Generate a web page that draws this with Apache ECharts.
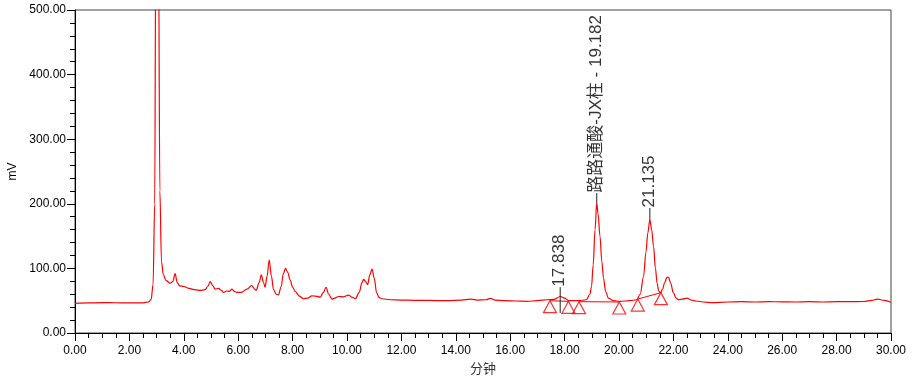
<!DOCTYPE html>
<html>
<head>
<meta charset="utf-8">
<script src="https://cdn.jsdelivr.net/npm/echarts@6/dist/echarts.min.js"></script>
<style>html,body{margin:0;padding:0;background:#fff;}#c{width:917px;height:380px;}</style>
</head>
<body>
<div id="c"></div>
<script>
// Chromatogram trace: time (min) and signal (mV)
var times = [0,0.5,1.0,1.5,2.0,2.5,2.7,2.8,2.87,2.93,2.97,3.02,3.07,3.12,3.18,3.25,3.35,3.5,3.6,3.68,3.76,3.85,4.0,4.2,4.4,4.6,4.78,4.88,4.97,5.07,5.15,5.28,5.38,5.46,5.58,5.68,5.77,5.87,5.95,6.13,6.32,6.5,6.6,6.66,6.77,6.85,6.93,6.99,7.06,7.14,7.22,7.30,7.40,7.48,7.58,7.66,7.74,7.82,7.91,8.0,8.10,8.25,8.40,8.55,8.71,8.85,9.02,9.12,9.23,9.33,9.45,9.55,9.69,9.85,10.06,10.2,10.31,10.45,10.55,10.61,10.68,10.76,10.84,10.92,11.0,11.09,11.18,11.28,11.59,12.0,12.45,13.0,13.68,14.2,14.54,14.8,15.1,15.27,15.45,15.8,16.2,16.62,17.0,17.36,17.6,17.84,18.0,18.15,18.5,18.8,18.93,18.99,19.05,19.12,19.18,19.23,19.3,19.37,19.43,19.51,19.61,19.8,20.04,20.4,20.65,20.78,20.9,20.99,21.06,21.135,21.2,21.27,21.34,21.4,21.46,21.53,21.6,21.68,21.76,21.82,21.9,22.0,22.1,22.18,22.33,22.49,22.66,22.83,23.1,23.43,24.0,24.5,25.0,25.5,26.0,26.5,27.0,27.5,28.0,28.5,29.0,29.3,29.5,29.75,30.0];
var signal = [46,46.5,47,46.8,46.5,46.6,48,52,75,200,600,1100,600,220,110,90,81,77,80,92,78,73,72,69,67,66,67,72,79.5,73,68,69,66,63,65,64.5,68,64,63,63,68,73.5,68,66,78,90,78,71,88,113,88,67,60,59,72,92,100,94,82,71,64,57,53,54,57.5,57,55.5,62,70.5,60,52.5,54,56.5,56,58.5,55,53,63,78,83,80,75,90,99,85,62,55,53,51.5,51,50.5,50.5,50,51,52.5,51,51.5,53.5,51,50,49.5,49,50,51.5,52,56.5,54,50,50,51.5,60,72,105,160,201.5,185,150,110,85,64,54,50,49,50,51.5,60,87,125,155,175.5,160,134,100,77,65,62,68,78,86,86.5,77,62,54,51.5,52.5,54,51,49.5,48,47,48,48.5,48,48.5,48.3,48,48.5,48,48.5,48.5,48.8,50.5,52.5,50.5,47.5];

// Peak start/end markers (time, mV)
var markerTimes = [17.46,18.14,18.53,20.01,20.69,21.54];
var markerValues = [50,49,48.5,48,52.5,62.5];

// Integration baselines (pairs of points)
var baseTimes = [[17.46,18.14],[18.53,20.01],[20.69,21.54]];
var baseValues = [[50,49],[48.5,48],[52.5,62.5]];

// Peak annotations
var peakTimes = [17.838,19.182,21.135];
var peakLabels = ['17.838','路路通酸-JX柱 - 19.182','21.135'];
var tickBottoms = [31,201.5,175.5];
var tickTops = [71,216.5,193.5];

var xTickLabels = ['0.00','2.00','4.00','6.00','8.00','10.00','12.00','14.00','16.00','18.00','20.00','22.00','24.00','26.00','28.00','30.00'];

var traceData = times.map(function(t,i){return [t, signal[i]];});
var markerData = markerTimes.map(function(t,i){return [t, markerValues[i]];});
var baseData = [];
baseTimes.forEach(function(p,i){
  baseData.push([p[0], baseValues[i][0]]);
  baseData.push([p[1], baseValues[i][1]]);
  baseData.push(null);
});
var tickData = [];
peakTimes.forEach(function(t,i){
  tickData.push([t, tickBottoms[i]]);
  tickData.push([t, tickTops[i]]);
  tickData.push(null);
});
var labelData = peakTimes.map(function(t,i){return {name: peakLabels[i], value:[t, tickTops[i]]};});

var txt = '#000';
var font = '"Liberation Sans", Arial, "Noto Sans CJK SC", sans-serif';
var chart = echarts.init(document.getElementById('c'), null, {renderer:'canvas'});
chart.setOption({
  animation: false,
  backgroundColor: '#fff',
  grid: {left: 75, right: 26, top: 10, bottom: 47, show: true, borderColor: '#444', borderWidth: 1,
         containLabel: false, outerBoundsMode: 'none'},
  xAxis: {
    type: 'value', min: 0, max: 30, interval: 2,
    name: '分钟', nameLocation: 'middle', nameGap: 30,
    nameTextStyle: {color: '#333', fontSize: 13, fontFamily: font},
    axisLine: {show: true, lineStyle: {color: '#000', width: 1}},
    axisTick: {show: true, length: 8, lineStyle: {color: '#000'}},
    minorTick: {show: true, splitNumber: 4, length: 5, lineStyle: {color: '#000'}},
    splitLine: {show: false},
    axisLabel: {color: txt, fontSize: 12, fontFamily: font, margin: 12,
      formatter: function(v){ return xTickLabels[Math.round(v/2)]; }}
  },
  yAxis: {
    type: 'value', min: 0, max: 500, interval: 100,
    name: 'mV', nameLocation: 'middle', nameGap: 54, nameRotate: 90,
    nameTextStyle: {color: txt, fontSize: 12, fontFamily: font},
    axisLine: {show: true, lineStyle: {color: '#000', width: 1}},
    axisTick: {show: true, length: 8, lineStyle: {color: '#000'}},
    minorTick: {show: true, splitNumber: 5, length: 5, lineStyle: {color: '#000'}},
    splitLine: {show: false},
    axisLabel: {color: txt, fontSize: 12, fontFamily: font, margin: 9,
      formatter: function(v){ return v.toFixed(2); }}
  },
  series: [
    {type: 'line', data: traceData, showSymbol: false, smooth: 0.35, smoothMonotone: 'x', clip: true,
     lineStyle: {color: '#ff0000', width: 1.2}, z: 3},
    {type: 'line', data: baseData, showSymbol: false, connectNulls: false,
     lineStyle: {color: '#ff0000', width: 1}, z: 3},
    {type: 'scatter', data: markerData, symbol: 'triangle', symbolSize: [13, 12], symbolOffset: [0, 6],
     itemStyle: {color: 'rgba(255,255,255,0)', borderColor: '#ff0000', borderWidth: 1.2}, z: 4},
    {type: 'line', data: tickData, showSymbol: false, connectNulls: false,
     lineStyle: {color: '#222', width: 1}, z: 5},
    {type: 'scatter', data: labelData, symbolSize: 1, itemStyle: {color: 'rgba(0,0,0,0)'}, z: 6,
     label: {show: true, position: [0, 0], rotate: 90, align: 'left', verticalAlign: 'middle',
       formatter: '{b}', color: txt, fontSize: 17, fontFamily: font}}
  ]
});
</script>
</body>
</html>
